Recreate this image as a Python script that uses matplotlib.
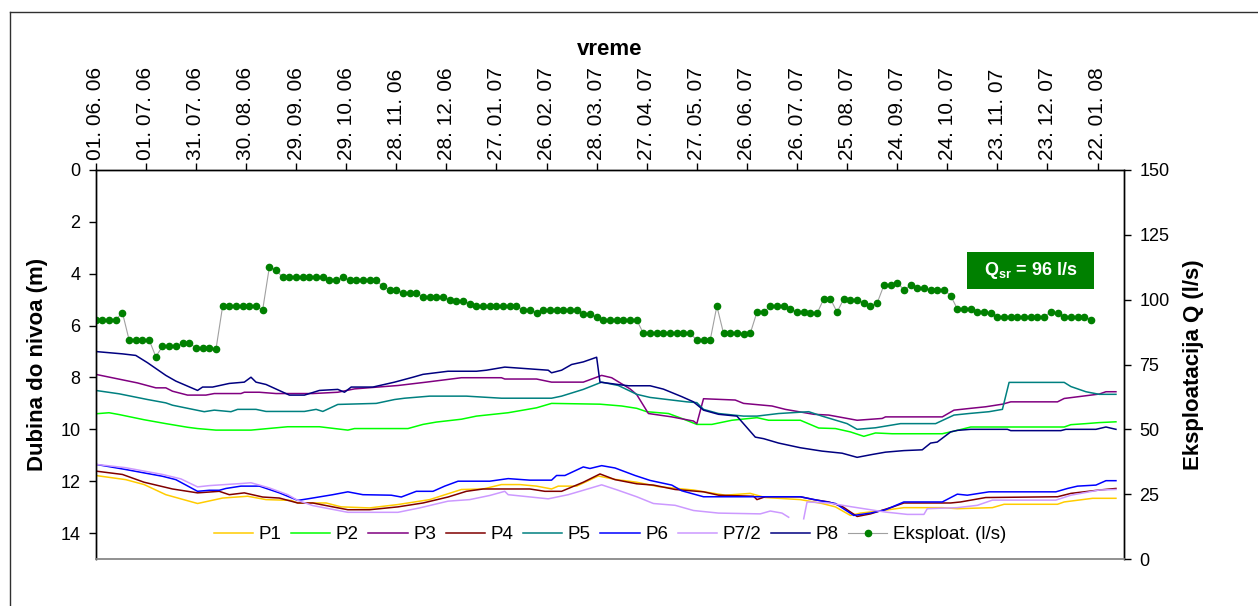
import matplotlib
matplotlib.use("Agg")
import matplotlib.pyplot as plt
import matplotlib.dates as mdates
from matplotlib.lines import Line2D
from matplotlib.patches import Rectangle
import numpy as np
import pandas as pd

plt.rcParams['font.family'] = ['Liberation Sans', 'DejaVu Sans']
plt.rcParams['mathtext.fontset'] = 'custom'
plt.rcParams['mathtext.rm'] = 'Liberation Sans'
plt.rcParams['mathtext.bf'] = 'Liberation Sans:bold'

START = pd.Timestamp('2006-06-01')
END = pd.Timestamp('2008-02-07')

# dates shown on the top axis
tick_dates = ['2006-06-01', '2006-07-01', '2006-07-31', '2006-08-30', '2006-09-29',
              '2006-10-29', '2006-11-28', '2006-12-28', '2007-01-27', '2007-02-26',
              '2007-03-28', '2007-04-27', '2007-05-27', '2007-06-26', '2007-07-26',
              '2007-08-25', '2007-09-24', '2007-10-24', '2007-11-23', '2007-12-23',
              '2008-01-22']

# pumping rate (l/s), read every 4 days from 01.06.06
q_values = [92.2, 92.2, 92.2, 92.2, 95.0, 84.5, 84.5, 84.5, 84.5, 78.0,
            82.0, 82.0, 82.0, 83.2, 83.2, 81.5, 81.5, 81.5, 80.8, 97.4,
            97.4, 97.4, 97.4, 97.4, 97.4, 96.1, 112.6, 111.4, 108.6, 108.6,
            108.6, 108.6, 108.6, 108.6, 108.6, 107.4, 107.4, 108.6, 107.4, 107.4,
            107.4, 107.4, 107.4, 105.1, 103.9, 103.9, 102.5, 102.5, 102.5, 101.2,
            101.2, 101.2, 101.2, 99.9, 99.5, 99.5, 98.5, 97.4, 97.4, 97.4,
            97.4, 97.4, 97.4, 97.4, 96.2, 96.2, 95.0, 96.2, 96.2, 96.2,
            96.2, 96.2, 96.2, 94.5, 94.5, 93.2, 92.2, 92.2, 92.2, 92.2,
            92.2, 92.2, 87.0, 87.0, 87.0, 87.0, 87.0, 87.0, 87.0, 87.0,
            84.4, 84.4, 84.4, 97.5, 87.0, 87.0, 87.0, 86.6, 87.0, 95.2,
            95.2, 97.5, 97.5, 97.5, 96.4, 95.2, 95.2, 94.7, 94.7, 100.3,
            100.3, 95.2, 100.3, 99.9, 99.9, 98.7, 97.5, 98.7, 105.5, 105.5,
            106.6, 103.8, 105.5, 104.4, 104.4, 103.8, 103.8, 103.8, 101.6, 96.4,
            96.4, 96.4, 95.2, 95.2, 94.7, 93.5, 93.5, 93.5, 93.5, 93.5,
            93.5, 93.5, 93.5, 95.2, 94.7, 93.5, 93.5, 93.5, 93.5, 92.3]
q_dates = pd.date_range(START, periods=len(q_values), freq='4D')

# water level depth (m) in the piezometers, day offsets from 01.06.06
p1_days = [0, 18, 29, 42, 61, 76, 91, 102, 117, 121, 138, 147, 164, 181, 200, 219,
           232, 243, 254, 264, 273, 277, 288, 301, 311, 324, 337, 358, 377, 392, 401,
           422, 435, 443, 452, 458, 469, 484, 507, 516, 537, 544, 576, 580, 597, 611]
p1_depth = [11.78, 11.94, 12.13, 12.52, 12.86, 12.65, 12.58, 12.71, 12.74, 12.84, 12.84,
            12.99, 13.03, 12.9, 12.71, 12.32, 12.3, 12.13, 12.13, 12.19, 12.3, 12.19,
            12.19, 11.8, 11.93, 12.04, 12.21, 12.34, 12.54, 12.47, 12.63, 12.71, 12.86,
            12.99, 13.32, 13.23, 13.15, 13.02, 13.02, 13.06, 13.02, 12.89, 12.89, 12.8,
            12.66, 12.66]

p2_days = [0, 8, 14, 29, 42, 55, 61, 72, 93, 115, 134, 151, 155, 187, 196, 204, 219,
           228, 247, 264, 273, 302, 315, 324, 330, 343, 351, 360, 369, 381, 396, 403,
           422, 433, 443, 452, 460, 467, 477, 507, 516, 524, 580, 584, 593, 601, 611]
p2_depth = [9.4, 9.36, 9.43, 9.63, 9.78, 9.92, 9.97, 10.03, 10.03, 9.9, 9.9, 10.03,
            9.97, 9.97, 9.81, 9.72, 9.61, 9.49, 9.36, 9.17, 9.0, 9.03, 9.1, 9.19, 9.32,
            9.39, 9.58, 9.81, 9.81, 9.65, 9.55, 9.65, 9.65, 9.95, 9.97, 10.1, 10.27,
            10.14, 10.17, 10.17, 10.04, 9.91, 9.91, 9.82, 9.78, 9.74, 9.71]

p3_days = [0, 25, 36, 42, 46, 55, 66, 71, 87, 89, 98, 108, 130, 145, 155, 181, 198,
           219, 243, 245, 264, 273, 292, 303, 309, 320, 324, 331, 345, 358, 360, 364,
           383, 388, 405, 413, 430, 439, 456, 471, 473, 507, 514, 524, 533, 543, 548,
           576, 580, 601, 605, 611]
p3_depth = [7.88, 8.21, 8.4, 8.4, 8.53, 8.68, 8.68, 8.62, 8.62, 8.57, 8.57, 8.62, 8.62,
            8.57, 8.44, 8.31, 8.18, 8.01, 8.01, 8.06, 8.06, 8.18, 8.18, 7.92, 8.01, 8.44,
            8.66, 9.39, 9.52, 9.68, 9.78, 8.82, 8.87, 9.0, 9.1, 9.23, 9.42, 9.45, 9.65,
            9.58, 9.52, 9.52, 9.26, 9.19, 9.13, 9.03, 8.94, 8.94, 8.81, 8.64, 8.55, 8.55]

p4_days = [0, 16, 29, 46, 61, 74, 80, 89, 100, 110, 121, 130, 142, 151, 164, 181, 196,
           211, 222, 232, 260, 269, 279, 292, 302, 311, 324, 334, 347, 364, 373, 394,
           396, 401, 422, 430, 439, 447, 456, 464, 477, 484, 512, 518, 533, 576, 584,
           601, 611]
p4_depth = [11.61, 11.74, 12.04, 12.3, 12.45, 12.39, 12.52, 12.45, 12.61, 12.65, 12.84,
            12.84, 12.99, 13.1, 13.1, 12.99, 12.84, 12.61, 12.39, 12.3, 12.3, 12.39,
            12.39, 12.04, 11.72, 11.94, 12.1, 12.15, 12.32, 12.41, 12.54, 12.58, 12.71,
            12.6, 12.6, 12.71, 12.8, 12.97, 13.36, 13.26, 13.0, 12.84, 12.84, 12.8,
            12.63, 12.6, 12.47, 12.34, 12.28]

p5_days = [0, 14, 31, 42, 46, 65, 71, 81, 85, 96, 102, 125, 132, 136, 145, 168, 179,
           185, 200, 222, 243, 273, 279, 292, 303, 313, 324, 332, 354, 360, 364, 373,
           388, 396, 409, 427, 435, 450, 456, 467, 482, 503, 514, 523, 535, 543, 547,
           580, 584, 593, 601, 611]
p5_depth = [8.5, 8.63, 8.85, 8.98, 9.07, 9.32, 9.26, 9.32, 9.23, 9.23, 9.31, 9.31, 9.23,
            9.31, 9.04, 9.0, 8.85, 8.8, 8.72, 8.72, 8.8, 8.8, 8.72, 8.46, 8.18, 8.31,
            8.65, 8.77, 8.94, 8.97, 9.23, 9.39, 9.49, 9.49, 9.39, 9.32, 9.49, 9.78, 10.0,
            9.94, 9.78, 9.78, 9.45, 9.39, 9.32, 9.23, 8.19, 8.19, 8.35, 8.55, 8.65, 8.65]

p6_days = [0, 18, 40, 48, 61, 68, 74, 78, 87, 98, 110, 121, 127, 142, 151, 160, 177,
           183, 192, 202, 209, 217, 236, 247, 260, 273, 276, 281, 292, 296, 303, 311,
           323, 332, 345, 351, 364, 422, 432, 443, 454, 464, 473, 484, 507, 516, 522,
           535, 575, 582, 588, 599, 605, 611]
p6_depth = [11.35, 11.55, 11.81, 11.94, 12.39, 12.35, 12.35, 12.28, 12.19, 12.19, 12.45,
            12.74, 12.68, 12.52, 12.41, 12.52, 12.54, 12.61, 12.39, 12.39, 12.19, 12.0,
            12.0, 11.9, 11.96, 11.96, 11.78, 11.78, 11.45, 11.51, 11.4, 11.49, 11.78,
            11.97, 12.15, 12.37, 12.6, 12.6, 12.73, 12.86, 13.32, 13.23, 13.1, 12.8,
            12.8, 12.5, 12.54, 12.41, 12.41, 12.28, 12.19, 12.15, 11.98, 11.98]

# P7/2 has no readings for about a week in July 2007
p7_days = [0, 18, 40, 51, 61, 68, 87, 93, 104, 115, 121, 130, 151, 181, 194, 211, 224,
           236, 245, 247, 271, 283, 292, 303, 312, 324, 334, 347, 358, 373, 398, 404,
           411, 415, 420, 424, 426, 439, 451, 464, 473, 486, 496, 498, 516, 528, 537,
           575, 584, 601, 611]
p7_depth = [11.35, 11.48, 11.74, 11.91, 12.22, 12.17, 12.09, 12.06, 12.26, 12.52, 12.74,
            12.94, 13.2, 13.2, 13.03, 12.77, 12.71, 12.55, 12.39, 12.52, 12.68, 12.52,
            12.35, 12.14, 12.33, 12.6, 12.86, 12.93, 13.13, 13.23, 13.26, 13.15, 13.23,
            13.39, np.nan, 13.45, 12.8, 12.84, 12.97, 13.1, 13.19, 13.28, 13.28, 13.06,
            13.02, 12.93, 12.73, 12.73, 12.54, 12.34, 12.32]

p8_days = [0, 16, 24, 31, 42, 48, 61, 64, 70, 80, 89, 93, 96, 102, 116, 125, 134, 145,
           149, 153, 166, 179, 190, 196, 211, 228, 234, 245, 271, 273, 279, 285, 292,
           300, 302, 315, 319, 332, 340, 351, 358, 364, 373, 384, 395, 400, 409, 422,
           435, 447, 456, 465, 473, 484, 495, 500, 504, 512, 516, 524, 546, 548, 578,
           581, 599, 605, 611]
p8_depth = [7.0, 7.09, 7.15, 7.43, 7.92, 8.14, 8.5, 8.37, 8.37, 8.23, 8.18, 7.99, 8.18,
            8.27, 8.68, 8.68, 8.5, 8.46, 8.57, 8.37, 8.37, 8.18, 7.99, 7.88, 7.76, 7.76,
            7.72, 7.6, 7.72, 7.82, 7.72, 7.5, 7.4, 7.22, 8.18, 8.29, 8.32, 8.32, 8.45,
            8.74, 8.94, 9.26, 9.42, 9.49, 10.3, 10.36, 10.53, 10.71, 10.84, 10.92, 11.08,
            10.97, 10.88, 10.82, 10.79, 10.53, 10.49, 10.1, 10.04, 10.0, 10.0, 10.05,
            10.05, 10.0, 10.0, 9.91, 10.0]

wells = [
    ('P1', p1_days, p1_depth, '#FFCC00'),
    ('P2', p2_days, p2_depth, '#00FF00'),
    ('P3', p3_days, p3_depth, '#800080'),
    ('P4', p4_days, p4_depth, '#800000'),
    ('P5', p5_days, p5_depth, '#008080'),
    ('P6', p6_days, p6_depth, '#0000FF'),
    ('P7/2', p7_days, p7_depth, '#CC99FF'),
    ('P8', p8_days, p8_depth, '#000080'),
]

W, H = 1258, 606
fig = plt.figure(figsize=(W / 100, H / 100), dpi=100)
fig.patch.set_facecolor('white')

# plot area in pixels: x 95.7..1124.3, y 170..559
ax = fig.add_axes([95.7 / W, 1 - 559 / H, (1124.3 - 95.7) / W, (559 - 170) / H])
ax2 = ax.twinx()

for name, days, depth, color in wells:
    dates = START + pd.to_timedelta(days, unit='D')
    ax.plot(dates, depth, color=color, lw=1.1, label=name)

ax2.plot(q_dates, q_values, color='#A0A0A0', lw=0.8, marker='o', ms=4.5,
         mfc='#008000', mec='#008000', label='Eksploat. (l/s)')

ax.set_xlim(START, END)
ax.set_ylim(15, 0)
ax.set_yticks(range(0, 15, 2))
ax2.set_ylim(0, 150)
ax2.set_yticks(range(0, 151, 25))

ax.xaxis.tick_top()
ax.set_xticks(pd.to_datetime(tick_dates))
ax.xaxis.set_major_formatter(mdates.DateFormatter('%d. %m. %y'))
ax.tick_params(axis='x', which='both', top=True, bottom=False, direction='out',
               length=5, width=1, pad=2, labelsize=15, labelrotation=90)
ax.tick_params(axis='y', direction='out', length=5, width=1, pad=6, labelsize=13)
ax2.tick_params(axis='y', direction='out', length=5, width=1, pad=6, labelsize=13)

for a in (ax, ax2):
    for side in ('left', 'right', 'top'):
        a.spines[side].set_color('black')
        a.spines[side].set_linewidth(1)
    a.spines['bottom'].set_color('#909090')
    a.spines['bottom'].set_linewidth(1.2)

ax.set_xlabel('vreme', fontsize=16, fontweight='bold')
ax.xaxis.set_label_position('top')
ax.xaxis.set_label_coords(0.5, 1.296)
ax.set_ylabel('Dubina do nivoa (m)', fontsize=16, fontweight='bold')
ax.yaxis.set_label_coords(-0.046, 0.5)
ax2.set_ylabel('Eksploatacija Q (l/s)', fontsize=16, fontweight='bold', rotation=90)
ax2.yaxis.set_label_coords(1.057, 0.5)

h1, l1 = ax.get_legend_handles_labels()
h2, l2 = ax2.get_legend_handles_labels()
ax2.legend(h1 + h2, l1 + l2, loc='center', bbox_to_anchor=(0.5, 0.062), ncol=9,
           frameon=False, fontsize=13.5, handlelength=2.1, handletextpad=0.3,
           columnspacing=0.5, borderpad=0)

# mean pumping rate label
bx0, bx1, by0, by1 = 967, 1094, 252, 289
fig.patches.append(Rectangle((bx0 / W, 1 - by1 / H), (bx1 - bx0) / W, (by1 - by0) / H,
                             transform=fig.transFigure, facecolor='#008000',
                             edgecolor='none', zorder=5))
fig.text((bx0 + bx1) / 2 / W, 1 - (by0 + by1) / 2 / H, r'Q$_{\mathbf{sr}}$ = 96 l/s',
         color='white', fontsize=13, fontweight='bold', ha='center', va='center',
         zorder=6)

# chart frame
fig.add_artist(Line2D([10 / W, 10 / W], [0, 1 - 12 / H], transform=fig.transFigure,
                      color='#303030', lw=1))
fig.add_artist(Line2D([10 / W, 1], [1 - 12 / H, 1 - 12 / H], transform=fig.transFigure,
                      color='#303030', lw=1))

fig.savefig('out.png', dpi=100, facecolor='white')
